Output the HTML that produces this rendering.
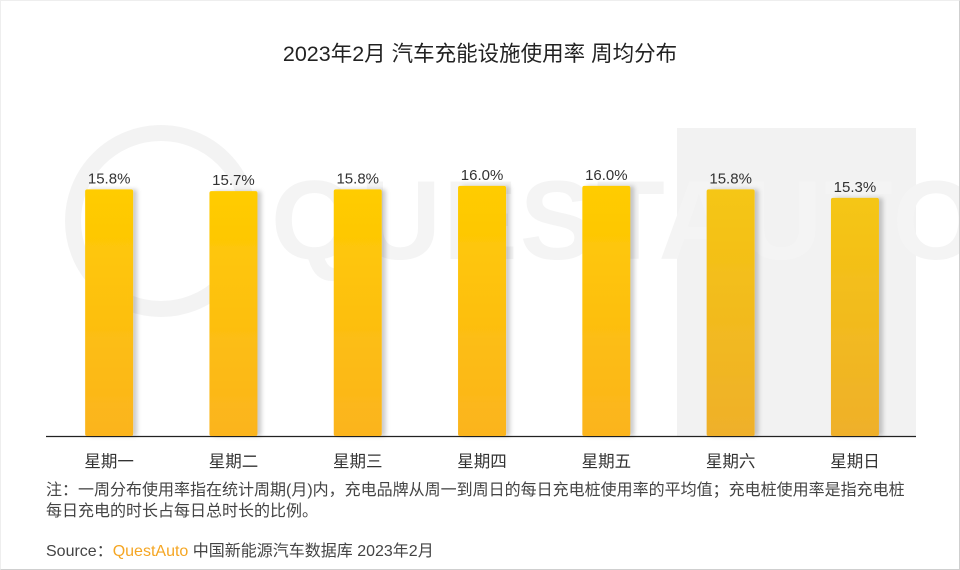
<!DOCTYPE html>
<html><head><meta charset="utf-8"><style>
body{margin:0;background:#fff;}
#wrap{position:relative;width:958px;height:568px;border:1px solid #cfcfcf;border-top-color:#eee;border-left-color:#eee;overflow:hidden;font-family:"Liberation Sans","Noto Sans CJK SC",sans-serif;}
.t{position:absolute;color:#333;white-space:nowrap;}
</style></head><body>
<div id="wrap">
<svg id="chart" width="958" height="568" style="position:absolute;left:0;top:0">
<defs>
<linearGradient id="g" x1="0" y1="0" x2="0" y2="1"><stop offset="0" stop-color="#ffcc00"/><stop offset="1" stop-color="#fbb41e"/></linearGradient>
<linearGradient id="g2" x1="0" y1="0" x2="0" y2="1"><stop offset="0" stop-color="#f5c612"/><stop offset="1" stop-color="#efb02a"/></linearGradient>
<filter id="sh" x="-20%" y="-5%" width="150%" height="110%"><feDropShadow dx="4" dy="0" stdDeviation="2" flood-color="#000" flood-opacity="0.2"/></filter>
</defs>
<rect x="676" y="127" width="239" height="308" fill="#f2f2f2"/>
<g fill="none" stroke="#f3f3f3" stroke-width="16">
<circle cx="160" cy="220" r="88"/>
</g>
<text x="270" y="258" font-size="112" fill="#f4f4f4" font-family="Liberation Sans,sans-serif" font-weight="bold" letter-spacing="2">QUESTAUTO</text>
<line x1="45" y1="435.5" x2="915" y2="435.5" stroke="#222" stroke-width="1.2"/>
<g id="bars"></g>
</svg>
<div class="t" style="left:0;width:958px;top:36px;text-align:center;font-size:21.5px;color:#222;">2023年2月 汽车充能设施使用率 周均分布</div>
<div class="t" style="left:45px;top:479px;font-size:16px;line-height:21px;color:#444;">注：一周分布使用率指在统计周期(月)内，充电品牌从周一到周日的每日充电桩使用率的平均值；充电桩使用率是指充电桩<br>每日充电的时长占每日总时长的比例。</div>
<div class="t" style="left:45px;top:536px;font-size:16px;color:#444;">Source：<span style="color:#f5a623;">QuestAuto</span> 中国新能源汽车数据库 2023年2月</div>
</div>
<script>
const categories=["星期一","星期二","星期三","星期四","星期五","星期六","星期日"];
const values=[15.8,15.7,15.8,16.0,16.0,15.8,15.3];
const labels=["15.8%","15.7%","15.8%","16.0%","16.0%","15.8%","15.3%"];
const base=435, vmin=1.41, k=17.14, x0=46, step=124.3, bw=48;
const yS=v=>base-(v-vmin)*k;
const xS=i=>x0+step*(i+0.5);
const g=document.getElementById('bars');
const NS='http://www.w3.org/2000/svg';
categories.forEach((c,i)=>{
 const cx=xS(i), y=yS(values[i]);
 const r=document.createElementNS(NS,'rect');
 
 
 r.setAttribute('x',cx-bw/2);r.setAttribute('y',y);r.setAttribute('width',bw);r.setAttribute('height',base-y);
 r.setAttribute('rx',2);r.setAttribute('fill',i>=5?'url(#g2)':'url(#g)');r.setAttribute('filter','url(#sh)');
 g.appendChild(r);
 const t=document.createElementNS(NS,'text');
 
 
 t.setAttribute('x',cx);t.setAttribute('y',y-6);t.setAttribute('text-anchor','middle');
 t.setAttribute('font-size','15');t.setAttribute('fill','#333');t.textContent=labels[i];
 g.appendChild(t);
 const a=document.createElementNS(NS,'text');
 
 
 a.setAttribute('x',cx);a.setAttribute('y',466);a.setAttribute('text-anchor','middle');
 a.setAttribute('font-size','16.5');a.setAttribute('fill','#333');
 a.setAttribute('font-family','Liberation Sans, Noto Sans CJK SC, sans-serif');a.textContent=c;
 g.appendChild(a);
});
</script>
</body></html>
